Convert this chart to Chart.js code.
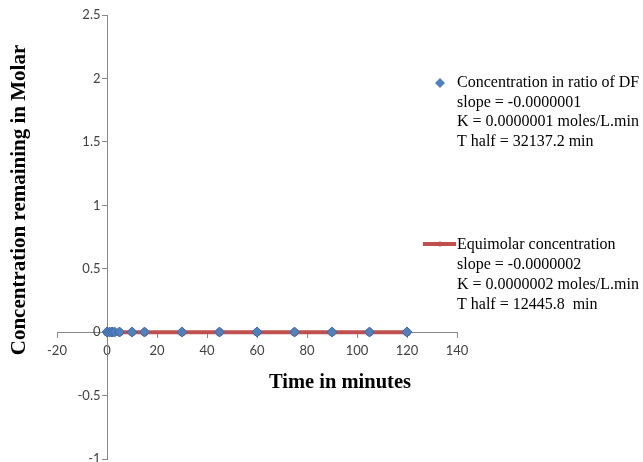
<!DOCTYPE html>
<html>
<head>
<meta charset="utf-8">
<script src="https://cdn.jsdelivr.net/npm/chart.js@4.4.0/dist/chart.umd.min.js"></script>
<style>
  html, body { margin: 0; padding: 0; background: #fff; overflow: hidden; }
  #wrap { width: 643px; height: 462px; overflow: hidden; }
</style>
</head>
<body>
<div id="wrap"><canvas id="chart" width="643" height="470"></canvas></div>
<script>
// sampling times (minutes)
const times = [0, 1, 2, 3, 5, 10, 15, 30, 45, 60, 75, 90, 105, 120];
// concentration in ratio of DF (Molar) - tiny values, sit on the zero line
const ratioConc = [0.0020, 0.0020, 0.0020, 0.0020, 0.0020, 0.0020, 0.0020, 0.0020, 0.0020, 0.0020, 0.0020, 0.0020, 0.0020, 0.0020];
// equimolar concentration (Molar)
const equiConc = [0.0010, 0.0010, 0.0010, 0.0010, 0.0010, 0.0010, 0.0010, 0.0010, 0.0010, 0.0010, 0.0010, 0.0010, 0.0010, 0.0010];

const legendRatio = ["Concentration in ratio of DF", "slope = -0.0000001", "K = 0.0000001 moles/L.min", "T half = 32137.2 min"];
const legendEqui = ["Equimolar concentration", "slope = -0.0000002", "K = 0.0000002 moles/L.min", "T half = 12445.8  min"];

const xTitle = "Time in minutes";
const yTitle = "Concentration remaining in Molar";

const blue = "#4f81bd";
const red = "#c0504d";

// axis titles and the side legend, drawn on the canvas
const extras = {
  id: "extras",
  afterDraw(chart) {
    const ctx = chart.ctx;
    ctx.save();
    ctx.fillStyle = "#000";
    ctx.textAlign = "center";
    ctx.textBaseline = "middle";
    ctx.font = "bold 20.5px 'Liberation Serif'";
    ctx.fillText(xTitle, 340, 383);
    ctx.font = "bold 21px 'Liberation Serif'";
    ctx.translate(20, 200);
    ctx.rotate(-Math.PI / 2);
    ctx.fillText(yTitle, 0, 0);
    ctx.restore();

    ctx.save();
    ctx.font = "16px 'Liberation Serif'";
    ctx.textBaseline = "middle";
    ctx.textAlign = "left";
    // series 1 marker
    ctx.fillStyle = blue;
    ctx.beginPath();
    ctx.moveTo(440, 78); ctx.lineTo(445, 83); ctx.lineTo(440, 88); ctx.lineTo(435, 83);
    ctx.closePath();
    ctx.fill();
    ctx.fillStyle = "#000";
    legendRatio.forEach((t, i) => ctx.fillText(t, 457, 83 + i * 19.5));
    // series 2 marker
    ctx.strokeStyle = red;
    ctx.lineWidth = 4;
    ctx.beginPath();
    ctx.moveTo(423, 244); ctx.lineTo(456, 244);
    ctx.stroke();
    ctx.fillStyle = red;
    ctx.beginPath();
    ctx.arc(440, 244, 2.5, 0, Math.PI * 2);
    ctx.fill();
    ctx.fillStyle = "#000";
    legendEqui.forEach((t, i) => ctx.fillText(t, 457, 245 + i * 20));
    ctx.restore();
  }
};

const tickFont = { family: "Lato", size: 13 };

new Chart(document.getElementById("chart").getContext("2d"), {
  type: "scatter",
  data: {
    datasets: [
      {
        label: legendRatio[0],
        data: times.map((t, i) => ({ x: t, y: ratioConc[i] })),
        pointStyle: "rectRot",
        pointRadius: 5,
        backgroundColor: blue,
        borderColor: "#3a6aa6",
        borderWidth: 1,
        showLine: false
      },
      {
        label: legendEqui[0],
        data: times.map((t, i) => ({ x: t, y: equiConc[i] })),
        showLine: true,
        borderColor: red,
        backgroundColor: red,
        borderWidth: 4,
        pointRadius: 2
      }
    ]
  },
  options: {
    responsive: false,
    animation: false,
    layout: { padding: { left: 57, right: 186, top: 15, bottom: 0 } },
    plugins: { legend: { display: false }, tooltip: { enabled: false } },
    scales: {
      x: {
        type: "linear",
        position: { y: 0 },
        min: -20, max: 140,
        ticks: { stepSize: 20, color: "#404040", font: tickFont, padding: 6 },
        grid: { display: true, drawOnChartArea: false, drawTicks: true, tickLength: 5, color: "#888" },
        border: { color: "#888", width: 1 }
      },
      y: {
        type: "linear",
        position: { x: 0 },
        min: -1, max: 2.5,
        ticks: {
          stepSize: 0.5, color: "#404040", font: tickFont,
          // labels sit right-aligned on the axis line, pad them off it
          callback: v => String(v) + "\u2002"
        },
        grid: { display: true, drawOnChartArea: false, drawTicks: true, tickLength: 5, color: "#888" },
        border: { color: "#888", width: 1 }
      }
    }
  },
  plugins: [extras]
});
</script>
</body>
</html>
